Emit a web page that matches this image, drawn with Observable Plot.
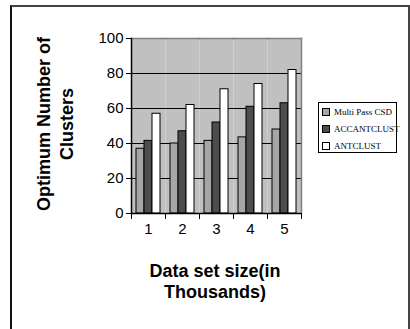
<!DOCTYPE html>
<html>
<head>
<meta charset="utf-8">
<script src="https://cdn.jsdelivr.net/npm/d3@7"></script>
<script src="https://cdn.jsdelivr.net/npm/@observablehq/plot@0.6"></script>
<style>
  html, body { margin: 0; padding: 0; background: #fff; }
  #wrap { position: relative; width: 410px; height: 329px; overflow: hidden; font-family: "Liberation Sans", Arial, sans-serif; }
  #outer { position: absolute; left: 10px; top: 5px; width: 396px; height: 360px; border-top: 2px solid #444; border-left: 2px solid #111; border-right: 2px solid #444; }
  #chart { position: absolute; left: 0; top: 0; }
  .ylab { position: absolute; left: 56px; top: 124px; transform: translate(-50%, -50%) rotate(-90deg); white-space: nowrap; text-align: center; font-weight: bold; font-size: 18px; line-height: 23px; }
  .xlab { position: absolute; left: 215px; top: 282px; transform: translate(-50%, -50%); white-space: nowrap; text-align: center; font-weight: bold; font-size: 18px; line-height: 21px; }
  #legend { position: absolute; left: 318px; top: 102px; width: 79px; height: 51px; border: 1px solid #000; box-sizing: border-box; font-family: "Liberation Serif", "Times New Roman", serif; font-size: 9px; padding-top: 0px; }
  #legend .row { height: 17px; display: flex; align-items: center; padding-left: 3px; }
  #legend .sw { width: 6px; height: 6px; border: 1px solid #000; margin-right: 4px; flex: none; }
</style>
</head>
<body>
<div id="wrap">
  <div id="outer"></div>
  <div id="chart"></div>
  <div class="ylab">Optimum Number of<br>Clusters</div>
  <div class="xlab">Data set size(in<br>Thousands)</div>
  <div id="legend"></div>
</div>
<script>
const groups = [1, 2, 3, 4, 5];
const series = ["Multi Pass CSD", "ACCANTCLUST", "ANTCLUST"];
const multiPassCSD = [37, 40, 41.5, 43.5, 48];
const accantclust = [41.5, 47, 52, 61, 63];
const antclust = [57, 62, 71, 74, 82];
const colors = ["#a6a6a6", "#4d4d4d", "#ffffff"];
const yTicks = [0, 20, 40, 60, 80, 100];
const gridValues = [20, 40, 60, 80];

const seriesValues = [multiPassCSD, accantclust, antclust];
const data = groups.flatMap((g, i) => series.map((s, j) => ({group: g, series: s, value: seriesValues[j][i]})));

const chart = Plot.plot({
  width: 410,
  height: 329,
  marginLeft: 129,
  marginRight: 108,
  marginTop: 38,
  marginBottom: 116,
  style: {fontFamily: "'Liberation Sans', Arial, sans-serif", fontSize: "15px", color: "#000", background: "transparent", overflow: "visible"},
  fx: {domain: groups, paddingInner: 0, paddingOuter: 0, label: null},
  x: {domain: series, paddingInner: 0, paddingOuter: 0.58, align: 0.45, axis: null},
  y: {domain: [0, 100], label: null},
  color: {domain: series, range: colors},
  marks: [
    Plot.frame({fill: "#c0c0c0"}),
    Plot.ruleY(gridValues, {stroke: "#000", strokeWidth: 1}),
    Plot.frame({anchor: "top", stroke: "#808080", strokeWidth: 1.5}),
    Plot.frame({anchor: "right", stroke: "#808080", strokeWidth: 1.5, facetAnchor: "right"}),
    Plot.barY(data, {fx: "group", x: "series", y: "value", fill: "series", stroke: "#000", strokeWidth: 1}),
    Plot.ruleY([0], {stroke: "#000", strokeWidth: 1.5}),
    Plot.frame({anchor: "left", stroke: "#000", strokeWidth: 1.5, facetAnchor: "left"}),
    Plot.frame({anchor: "left", stroke: "#000", strokeWidth: 1, insetTop: 175, insetBottom: -5}),
    Plot.frame({anchor: "right", stroke: "#000", strokeWidth: 1, insetTop: 175, insetBottom: -5, facetAnchor: "right"}),
    Plot.axisY(yTicks, {tickSize: 5, tickPadding: 3, label: null, fontSize: 15}),
    Plot.axisFx({anchor: "bottom", tickSize: 0, tickPadding: 10, label: null, fontSize: 15})
  ]
});
document.getElementById("chart").appendChild(chart);

const legend = document.getElementById("legend");
series.forEach((s, j) => {
  const row = document.createElement("div");
  row.className = "row";
  const sw = document.createElement("span");
  sw.className = "sw";
  sw.style.background = colors[j];
  const t = document.createElement("span");
  t.textContent = s;
  row.appendChild(sw);
  row.appendChild(t);
  legend.appendChild(row);
});
</script>
</body>
</html>
